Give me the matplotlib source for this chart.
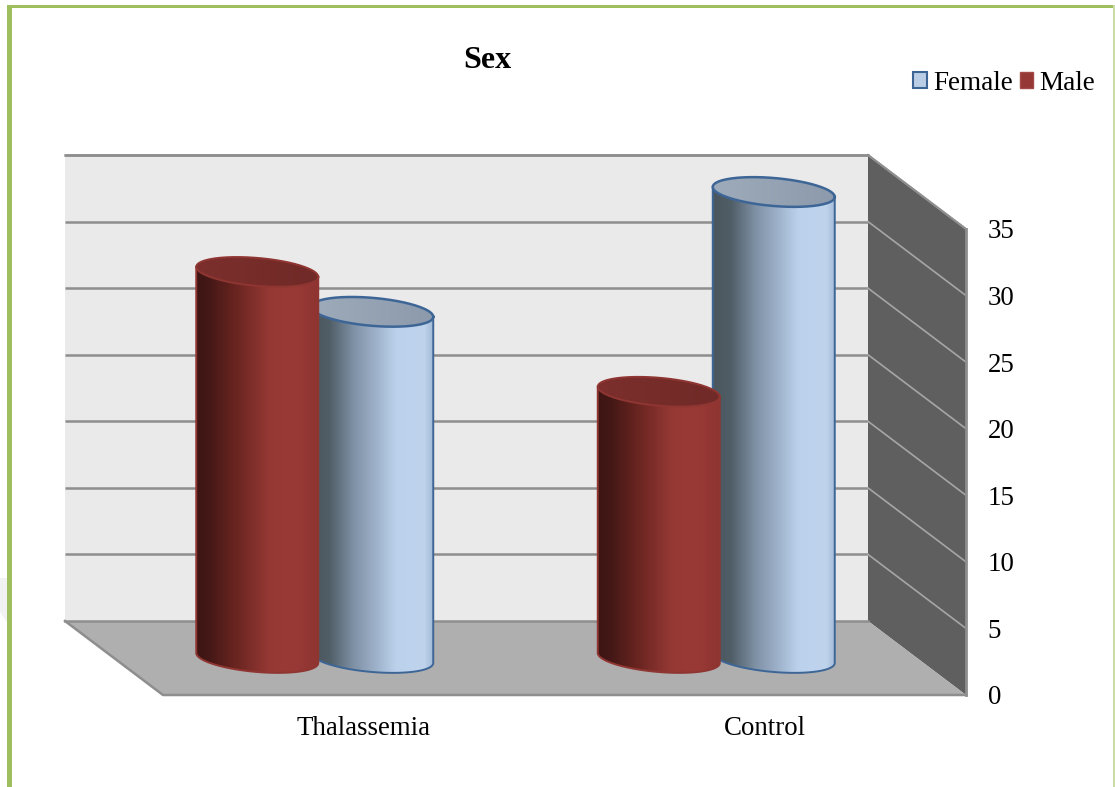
import numpy as np
import matplotlib
matplotlib.use("Agg")
import matplotlib.pyplot as plt
from matplotlib.colors import LinearSegmentedColormap
from matplotlib.patches import Patch, Polygon, Rectangle

plt.rcParams['font.family'] = ['Liberation Serif', 'DejaVu Serif']

categories = ['Thalassemia', 'Control']
female = [26, 35]
male = [29, 20]
y_ticks = [0, 5, 10, 15, 20, 25, 30, 35]

W, H = 1115, 787
# plot box of the front plane, in pixels from the top left
LEFT, RIGHT, TOP, BOTTOM = 163, 966, 229, 695
XS = (RIGHT - LEFT) / 2.0   # pixels per x unit
YS = (BOTTOM - TOP) / 35.0  # pixels per y unit

# depth of the box
DX = -98 / XS
DY = 74 / YS

BAR_A = 61 / XS
BAR_B = 14 / YS
BAR_S = 5 / YS
BAR_SHIFT = 57.5 / XS

red_body = LinearSegmentedColormap.from_list('red_body', [
    (0, '#3e1513'), (0.1, '#431816'), (0.3, '#65231f'), (0.6, '#953834'),
    (0.8, '#9a3a36'), (1, '#8e3431')])
blue_body = LinearSegmentedColormap.from_list('blue_body', [
    (0, '#4b565d'), (0.15, '#505e67'), (0.35, '#7f91a5'), (0.55, '#a0b4cd'),
    (0.7, '#bcd2ec'), (0.93, '#bfd3ec'), (1, '#a4bbd8')])
red_top = LinearSegmentedColormap.from_list('red_top', ['#7c2f2c', '#702a27'])
blue_top = LinearSegmentedColormap.from_list('blue_top', ['#9dabba', '#8c9aac'])

fig = plt.figure(figsize=(W / 100, H / 100), dpi=100, facecolor='white')


def fig_xy(x, y):
    return x / W, 1 - y / H


def frame_rect(x0, y0, x1, y1, color):
    fx, fy = fig_xy(x0, y1)
    fig.patches.append(Rectangle((fx, fy), (x1 - x0) / W, (y1 - y0) / H, color=color,
                                 lw=0, transform=fig.transFigure, figure=fig))


# green page frame and the faint shape behind it
fig.patches.append(Polygon([fig_xy(0, 578), fig_xy(7, 578), fig_xy(7, 622), fig_xy(0, 612)],
                           color='#f2f2f2', lw=0, transform=fig.transFigure, figure=fig))
frame_rect(7, 5, 12, H, '#9fbf5e')
frame_rect(7, 5, 1113, 8, '#9fbf5e')
frame_rect(1113, 5, W, H, '#c9dcaa')

ax = fig.add_axes([LEFT / W, 1 - BOTTOM / H, (RIGHT - LEFT) / W, (BOTTOM - TOP) / H])
ax.patch.set_visible(False)
for s in ax.spines.values():
    s.set_visible(False)

# walls and floor
ax.add_patch(Polygon([(DX, DY), (2 + DX, DY), (2 + DX, 35 + DY), (DX, 35 + DY)],
                     fc='#eaeaea', ec='none', clip_on=False, zorder=1))
ax.add_patch(Polygon([(2 + DX, DY), (2, 0), (2, 35), (2 + DX, 35 + DY)],
                     fc='#5f5f5f', ec='none', clip_on=False, zorder=1))
for v in y_ticks[1:]:
    ax.plot([DX, 2 + DX], [v + DY, v + DY], color='#8e8e8e', lw=1.8, clip_on=False, zorder=2,
            solid_capstyle='butt')
    ax.plot([2 + DX, 2], [v + DY, v], color='#a6a6a6', lw=1.2, clip_on=False, zorder=2)
ax.plot([DX, 2 + DX], [35 + DY, 35 + DY], color='#8e8e8e', lw=1.8, clip_on=False, zorder=2)
ax.plot([2 + DX, 2], [35 + DY, 35], color='#8e8e8e', lw=1.5, clip_on=False, zorder=2)
ax.plot([2, 2], [0, 35], color='#8e8e8e', lw=2, clip_on=False, zorder=2)
ax.add_patch(Polygon([(DX, DY), (2 + DX, DY), (2, 0), (0, 0)],
                     fc='#afafaf', ec='none', clip_on=False, zorder=3))
ax.plot([DX, 2 + DX], [DY, DY], color='#8e8e8e', lw=1.8, clip_on=False, zorder=3)
ax.plot([DX, 0, 2], [DY, 0, 0], color='#8e8e8e', lw=1.8, clip_on=False, zorder=3)


def gradient(poly, left, right, y0, y1, cmap, z):
    im = ax.imshow(np.linspace(0, 1, 256).reshape(1, -1), extent=(left, right, y0, y1),
                   aspect='auto', cmap=cmap, interpolation='bilinear', zorder=z)
    patch = Polygon(poly, transform=ax.transData, fc='none', ec='none')
    ax.add_patch(patch)
    # the tallest bar's top rises above the axes box
    im.set_clip_box(fig.bbox)
    im.set_clip_path(patch)


def cylinder(cx, value, body, top, edge, top_lw, z):
    base = DY / 2
    y_top = base + value
    t = np.linspace(np.pi, 2 * np.pi, 80)
    bx = cx + BAR_A * np.cos(t)
    by = base + BAR_B * np.sin(t) - BAR_S * np.cos(t)
    side = np.column_stack([np.r_[cx - BAR_A, bx, cx + BAR_A],
                            np.r_[y_top + BAR_S, by, y_top - BAR_S]])
    gradient(side, cx - BAR_A, cx + BAR_A, base - 2, y_top + 2, body, z)
    ax.plot(side[:, 0], side[:, 1], color=edge, lw=1.4, zorder=z + 0.1, clip_on=False)

    t = np.linspace(0, 2 * np.pi, 160)
    tx = cx + BAR_A * np.cos(t)
    ty = y_top + BAR_B * np.sin(t) - BAR_S * np.cos(t)
    gradient(np.column_stack([tx, ty]), cx - BAR_A, cx + BAR_A, y_top - 2, y_top + 2, top, z + 0.2)
    ax.plot(tx, ty, color=edge, lw=top_lw, zorder=z + 0.3, clip_on=False)


for i in range(len(categories)):
    centre = i + 0.5 + DX / 2
    cylinder(centre + BAR_SHIFT, female[i], blue_body, blue_top, '#3d6697', 1.8, 5 + i)
    cylinder(centre - BAR_SHIFT, male[i], red_body, red_top, '#8f3532', 1.4, 5.5 + i)

ax.set_xlim(0, 2)
ax.set_ylim(0, 35)
ax.set_xticks([0.5, 1.5])
ax.set_xticklabels(categories, fontsize=19.4)
ax.set_yticks(y_ticks)
ax.yaxis.tick_right()
ax.tick_params(axis='both', length=0, colors='black', labelsize=19.4)
ax.tick_params(axis='y', pad=15.5)
ax.tick_params(axis='x', pad=15)

fig.text(487 / W, 1 - 61 / H, 'Sex', fontsize=23, fontweight='bold', ha='center', va='center')

handles = [Patch(fc='#b9cde5', ec='#3d6697', lw=1.5, label='Female'),
           Patch(fc='#953735', ec='#a34a47', lw=1, label='Male')]
fig.legend(handles=handles, ncol=2, frameon=False, fontsize=19.5, loc='center right',
           bbox_to_anchor=(1095 / W, 1 - 83 / H), borderaxespad=0, borderpad=0,
           handlelength=0.5, handleheight=0.5, handletextpad=0.22, columnspacing=0.26)

fig.savefig('out.png', dpi=100)
